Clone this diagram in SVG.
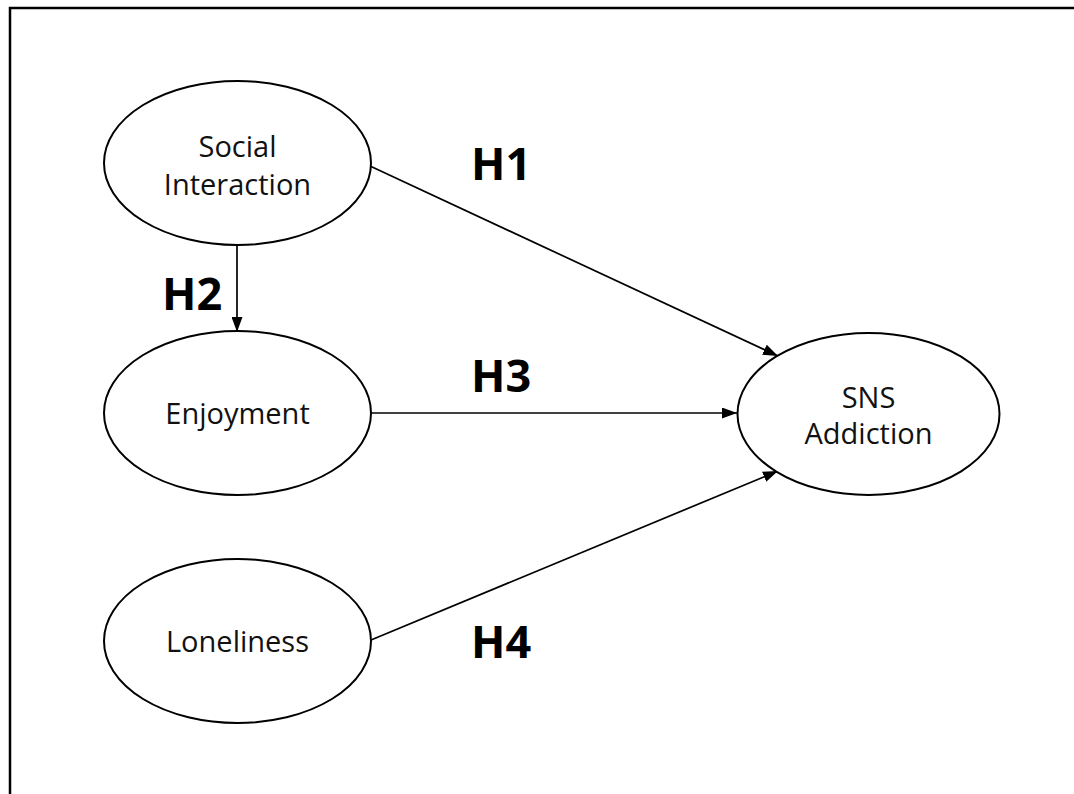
<svg xmlns="http://www.w3.org/2000/svg" width="1074" height="794" viewBox="0 0 1074 794">
<style>
.node ellipse{fill:#fff;stroke:#000;stroke-width:2}
.node text{font-family:"Open Sans","Noto Sans",sans-serif;font-size:29px;fill:#111;text-anchor:middle}
.lbl{font-family:"Open Sans","Noto Sans",sans-serif;font-size:45px;font-weight:bold;fill:#000}
.conn line{stroke:#000;stroke-width:1.7;marker-end:url(#ah)}
</style>
<defs>
<marker id="ah" viewBox="0 0 10 10" refX="10" refY="5" markerWidth="15" markerHeight="11" markerUnits="userSpaceOnUse" orient="auto" preserveAspectRatio="none">
<path d="M0,0 L10,5 L0,10 z" fill="#000"/>
</marker>
</defs>
<rect width="1074" height="794" fill="#fff"/>
<path d="M10,796 V8 H1076" fill="none" stroke="#000" stroke-width="2.5"/>
<g class="conn">
<line x1="370" y1="166" x2="778" y2="356"/>
<line x1="237" y1="245" x2="237" y2="332"/>
<line x1="371" y1="413" x2="737" y2="413"/>
<line x1="371" y1="640" x2="778" y2="471"/>
</g>
<g id="social" class="node">
<ellipse cx="237.5" cy="163" rx="133.5" ry="82"/>
<text x="237.5" y="157">Social</text>
<text x="237.5" y="195">Interaction</text>
</g>
<g id="enjoyment" class="node">
<ellipse cx="237.5" cy="413" rx="133.5" ry="82"/>
<text x="237.5" y="424">Enjoyment</text>
</g>
<g id="loneliness" class="node">
<ellipse cx="237.5" cy="641" rx="133.5" ry="82"/>
<text x="237.5" y="652">Loneliness</text>
</g>
<g id="sns" class="node">
<ellipse cx="868.5" cy="414" rx="131" ry="81"/>
<text x="868.5" y="408">SNS</text>
<text x="868.5" y="444">Addiction</text>
</g>
<g id="labels">
<text class="lbl" x="471" y="180">H1</text>
<text class="lbl" x="162" y="310">H2</text>
<text class="lbl" x="471" y="392">H3</text>
<text class="lbl" x="471" y="658">H4</text>
</g>
</svg>
